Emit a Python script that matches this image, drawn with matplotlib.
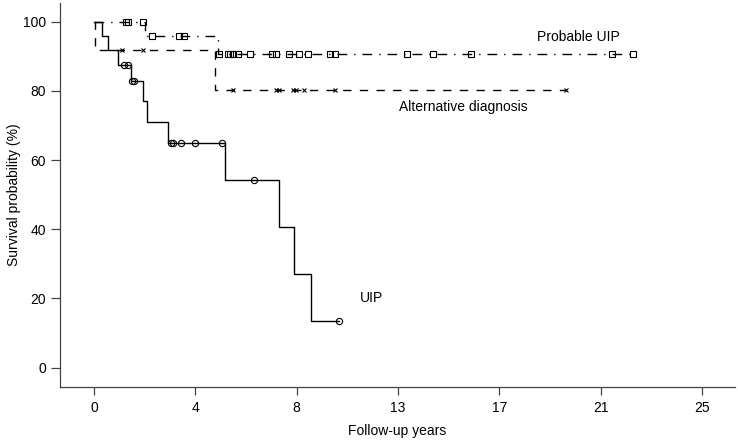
import numpy as np
import matplotlib
matplotlib.use("Agg")
import matplotlib.pyplot as plt

plt.rcParams['font.family'] = ['Liberation Sans', 'DejaVu Sans']

# UIP: step times (event) and survival level after each step (%)
uip_t = [0, 0.33, 0.56, 0.98, 1.52, 2.00, 2.18, 3.06, 5.39, 7.59, 8.23, 8.92]
uip_s = [100, 95.8, 91.7, 87.5, 82.9, 77.2, 71.0, 65.0, 54.2, 40.6, 27.1, 13.5]
uip_c = [1.22, 1.38, 1.55, 1.66, 3.16, 3.24, 3.57, 4.16, 5.25, 6.56, 10.07]

# Probable UIP
prob_t = [0, 2.08, 5.09]
prob_s = [100, 95.8, 90.6]
prob_c = [1.32, 1.41, 2.00, 2.39, 3.51, 3.69, 5.12, 5.50, 5.60, 5.73, 5.94,
          6.42, 7.31, 7.49, 8.00, 8.45, 8.82, 9.71, 9.92, 12.87, 13.96,
          15.50, 21.30, 22.16]

# Alternative diagnosis
alt_t = [0, 0.05, 4.99]
alt_s = [100, 91.7, 80.2]
alt_c = [1.14, 2.03, 5.73, 7.49, 7.60, 8.18, 8.31, 8.64, 9.92, 19.40]

xtick_labels = ['0', '4', '8', '13', '17', '21', '25']
yticks = [0, 20, 40, 60, 80, 100]


def km_curve(ax, t, s, c, ls, marker, ms):
    t_end = max(max(c), t[-1])
    tx = list(t) + [t_end]
    sy = list(s) + [s[-1]]
    ax.step(tx, sy, where='post', color='black', linestyle=ls, lw=1.0)
    idx = np.searchsorted(t, c, side='right') - 1
    cy = np.array(s)[idx]
    ax.plot(c, cy, linestyle='none', marker=marker, ms=ms, mfc='none',
            mec='black', mew=0.8)


fig = plt.figure(figsize=(7.38, 4.41), dpi=100)
ax = fig.add_axes([0.0813, 0.1218, 0.9146, 0.8714])

km_curve(ax, uip_t, uip_s, uip_c, '-', 'o', 4.5)
km_curve(ax, prob_t, prob_s, prob_c, (0, (7, 5, 1, 5)), 's', 4.2)
km_curve(ax, alt_t, alt_s, alt_c, (0, (6, 6)), 'x', 3.5)

ax.text(11.4, 20.1, 'UIP', fontsize=10, ha='center', va='center')
ax.text(19.9, 95.7, 'Probable UIP', fontsize=10, ha='center', va='center')
ax.text(15.2, 75.3, 'Alternative diagnosis', fontsize=10, ha='center', va='center')

ax.set_xlim(-1.40, 26.36)
ax.set_ylim(-5.66, 105.4)
ax.set_xticks(np.linspace(0, 25, 7))
ax.set_xticklabels(xtick_labels)
ax.set_yticks(yticks)
ax.tick_params(axis='both', direction='out', colors='#444444', labelcolor='black',
               labelsize=10, width=0.9)
ax.tick_params(axis='x', length=5.8, pad=4)
ax.tick_params(axis='y', length=6.5, pad=3.5)

for side in ['top', 'right']:
    ax.spines[side].set_visible(False)
for side in ['left', 'bottom']:
    ax.spines[side].set_color('#444444')
    ax.spines[side].set_linewidth(0.9)

ax.set_xlabel('Follow-up years', fontsize=10)
ax.set_ylabel('Survival probability (%)', fontsize=10)
ax.xaxis.set_label_coords(0.5, -0.095)
ax.yaxis.set_label_coords(-0.058, 0.5)

fig.savefig('out.png', dpi=100)
